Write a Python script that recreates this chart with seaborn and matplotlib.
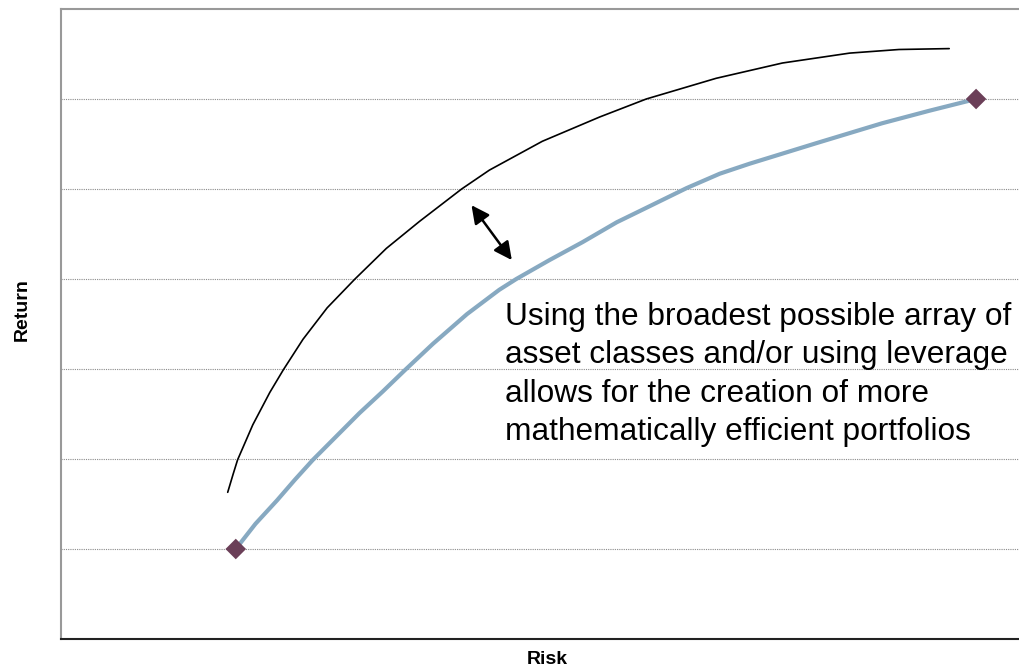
import matplotlib
matplotlib.use("Agg")
import matplotlib.pyplot as plt
import seaborn as sns
import pandas as pd

# Traditional efficient frontier (blue)
base_risk = [1.95, 2.17, 2.41, 2.61, 2.81, 3.07, 3.33, 3.59, 3.84, 4.15, 4.53, 4.89,
             5.08, 5.45, 5.82, 6.20, 6.57, 6.98, 7.35, 7.68, 8.43, 9.16, 9.69, 10.21]
base_return = [1.00, 1.28, 1.54, 1.77, 1.99, 2.25, 2.51, 2.75, 2.99, 3.28, 3.61, 3.88,
               4.00, 4.21, 4.41, 4.63, 4.81, 5.01, 5.17, 5.28, 5.51, 5.73, 5.87, 6.00]

# Expanded frontier (black) using more asset classes and/or leverage
wide_risk = [1.86, 1.92, 1.97, 2.14, 2.33, 2.48, 2.70, 2.97, 3.28, 3.63, 4.00, 4.47,
             4.78, 5.37, 6.01, 6.53, 7.31, 8.05, 8.80, 9.35, 9.91]
wide_return = [1.63, 1.83, 1.99, 2.38, 2.74, 2.99, 3.33, 3.68, 4.00, 4.34, 4.64, 5.00,
               5.21, 5.53, 5.80, 6.00, 6.23, 6.40, 6.51, 6.55, 6.56]

# Endpoints of the traditional frontier
end_risk = [base_risk[0], base_risk[-1]]
end_return = [base_return[0], base_return[-1]]

note = ("Using the broadest possible array of\n"
        "asset classes and/or using leverage\n"
        "allows for the creation of more\n"
        "mathematically efficient portfolios")

sns.set_style("white")
plt.rcParams["font.family"] = ["Liberation Sans", "DejaVu Sans"]
plt.rcParams["text.color"] = "black"

fig = plt.figure(figsize=(10.2, 6.7), dpi=100)
ax = fig.add_axes([61 / 1020, 31 / 670, 1 - 61 / 1020, 630 / 670])

base = pd.DataFrame({"risk": base_risk, "ret": base_return})
wide = pd.DataFrame({"risk": wide_risk, "ret": wide_return})

sns.lineplot(data=wide, x="risk", y="ret", sort=False, color="black", lw=1.2, ax=ax,
             solid_joinstyle="round")
sns.lineplot(data=base, x="risk", y="ret", sort=False, color="#87a9c1", lw=3.0, ax=ax,
             solid_capstyle="round", solid_joinstyle="round")
sns.scatterplot(x=end_risk, y=end_return, marker="D", s=110, color="#6b3f58",
                edgecolor="none", zorder=5, ax=ax)

ax.annotate("", xy=(4.58, 4.82), xytext=(5.03, 4.21),
            arrowprops=dict(arrowstyle="<|-|>", color="black", lw=1.8,
                            mutation_scale=27, shrinkA=0, shrinkB=0))

ax.text(4.95, 3.745, note, fontsize=22.8, va="top", ha="left", linespacing=1.36,
        color="black")

ax.set_xlim(0, 10.7)
ax.set_ylim(0, 7)
ax.set_yticks([1, 2, 3, 4, 5, 6])
ax.set_xticks([])
ax.tick_params(left=False, labelleft=False)
ax.yaxis.grid(True, color="#8a8a8a", lw=0.8, linestyle=(0, (1, 1)))
ax.set_axisbelow(True)

for side in ("left", "top"):
    ax.spines[side].set_color("#999999")
    ax.spines[side].set_linewidth(1.5)
ax.spines["bottom"].set_color("#222222")
ax.spines["bottom"].set_linewidth(1.5)
ax.spines["right"].set_visible(False)

ax.set_xlabel("")
ax.set_ylabel("")
fig.text(547 / 1020, 1 - 660 / 670, "Risk", fontsize=14, fontweight="bold",
         ha="center", va="center", color="black")
fig.text(22 / 1020, 1 - 310 / 670, "Return", fontsize=14, fontweight="bold",
         ha="center", va="center", rotation=90, color="black")

fig.savefig("out.png", dpi=100)
